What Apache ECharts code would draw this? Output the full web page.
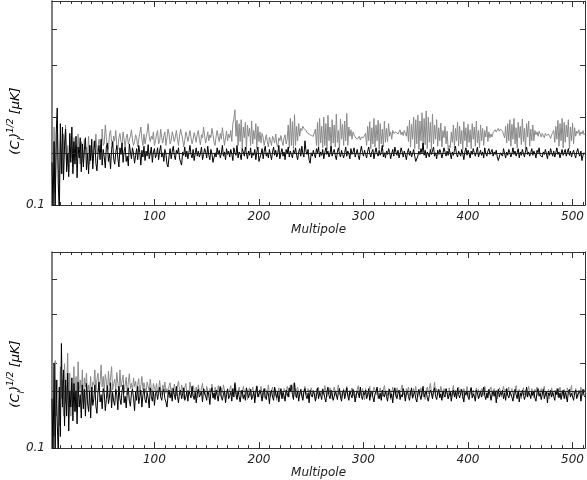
<!DOCTYPE html>
<html>
<head>
<meta charset="utf-8">
<script src="https://cdn.jsdelivr.net/npm/echarts@6/dist/echarts.min.js"></script>
<style>
  html, body { margin: 0; padding: 0; background: #fff; }
  #main { width: 587px; height: 480px; }
</style>
</head>
<body>
<div id="main"></div>
<script>
// multipoles run from l = 2 up to 512, one value per l (values in nK)
const ellStart = 2;

const topGrey = [
  210, 120, 185, 110, 150, 195, 135, 112, 165, 145,
  128, 175, 150, 188, 135, 160, 130, 172, 145, 158,
  135, 170, 142, 160, 150, 175, 148, 138, 165, 150,
  140, 168, 155, 158, 145, 172, 138, 160, 150, 142,
  165, 158, 175, 150, 158, 168, 170, 152, 182, 160,
  163, 188, 170, 158, 155, 175, 180, 165, 158, 172,
  166, 180, 160, 155, 170, 176, 165, 160, 178, 168,
  158, 170, 175, 162, 160, 172, 181, 167, 160, 165,
  174, 170, 158, 168, 176, 185, 168, 160, 175, 162,
  170, 178, 190, 172, 165, 172, 168, 178, 160, 166,
  175, 180, 162, 165, 182, 170, 163, 173, 178, 160,
  170, 182, 175, 162, 166, 178, 172, 165, 171, 180,
  168, 160, 172, 182, 175, 168, 158, 166, 178, 173,
  165, 172, 180, 170, 162, 168, 177, 171, 164, 175,
  180, 168, 161, 174, 170, 185, 172, 163, 170, 178,
  166, 174, 170, 183, 175, 164, 160, 172, 180, 171,
  165, 176, 168, 184, 172, 160, 170, 179, 166, 175,
  170, 180, 165, 190, 198, 212, 172, 195, 160, 190,
  165, 196, 156, 185, 170, 192, 155, 188, 172, 183,
  160, 194, 162, 180, 168, 190, 156, 186, 165, 178,
  163, 176, 170, 160, 167, 174, 165, 158, 171, 166,
  160, 172, 168, 163, 175, 162, 158, 170, 166, 173,
  165, 160, 170, 174, 162, 168, 188, 157, 198, 160,
  193, 155, 204, 160, 186, 166, 190, 172, 183, 180,
  186, 183, 181, 180, 177, 176, 175, 173, 173, 171,
  172, 170, 182, 160, 192, 155, 198, 163, 186, 157,
  200, 160, 190, 154, 203, 166, 185, 156, 196, 163,
  188, 158, 205, 164, 180, 155, 197, 168, 189, 160,
  194, 166, 206, 160, 185, 172, 181, 168, 178, 174,
  171, 173, 168, 170, 172, 167, 171, 169, 170, 172,
  176, 160, 186, 166, 193, 156, 184, 162, 198, 158,
  188, 166, 195, 155, 190, 162, 182, 158, 194, 164,
  183, 165, 190, 172, 178, 168, 180, 176, 174, 178,
  180, 175, 177, 181, 174, 178, 173, 180, 176, 172,
  186, 165, 195, 158, 189, 168, 200, 156, 196, 162,
  203, 155, 194, 166, 207, 158, 198, 161, 210, 156,
  200, 164, 192, 155, 205, 162, 188, 168, 196, 159,
  184, 166, 191, 158, 180, 170, 186, 162, 179, 155,
  160, 157, 178, 164, 188, 157, 183, 166, 192, 159,
  186, 162, 180, 155, 193, 166, 184, 158, 189, 164,
  181, 156, 190, 168, 185, 159, 194, 163, 180, 157,
  188, 166, 183, 160, 180, 171, 186, 165, 178, 170,
  175, 171, 177, 176, 181, 178, 180, 183, 179, 182,
  184, 179, 180, 170, 186, 163, 190, 166, 196, 159,
  189, 168, 198, 162, 184, 157, 192, 170, 186, 161,
  197, 165, 183, 156, 190, 171, 194, 159, 182, 166,
  188, 166, 180, 174, 178, 172, 179, 175, 171, 176,
  174, 170, 176, 173, 171, 175, 172, 169, 174, 177,
  180, 164, 186, 168, 195, 159, 190, 166, 198, 157,
  192, 164, 188, 171, 196, 156, 185, 166, 191, 162,
  184, 172, 179, 176, 181, 173, 178, 175, 180, 174,
  176
];

const topBlack = [
  140, 95, 165, 90, 175, 215, 118, 92, 190, 128,
  185, 122, 160, 182, 130, 150, 125, 176, 140, 185,
  128, 165, 138, 172, 124, 158, 145, 170, 130, 162,
  135, 155, 170, 132, 150, 128, 160, 142, 168, 133,
  152, 166, 139, 131, 150, 160, 143, 168, 137, 155,
  146, 134, 158, 163, 141, 150, 133, 155, 165, 144,
  138, 151, 160, 145, 135, 157, 149, 163, 140, 153,
  158, 141, 147, 136, 162, 152, 144, 157, 150, 139,
  148, 156, 143, 160, 151, 137, 154, 146, 159, 142,
  153, 147, 161, 144, 150, 158, 140, 152, 156, 145,
  149, 157, 143, 153, 160, 146, 151, 141, 155, 150,
  138, 135, 147, 156, 144, 152, 159, 148, 143, 154,
  150, 157, 145, 140, 137, 152, 148, 158, 146, 153,
  144, 151, 160, 149, 145, 155, 142, 150, 157, 147,
  153, 146, 150, 158, 143, 149, 156, 152, 145, 159,
  148, 143, 155, 150, 140, 138, 151, 146, 157, 149,
  154, 145, 150, 160, 147, 152, 143, 156, 149, 153,
  146, 155, 150, 142, 157, 151, 148, 160, 145, 152,
  149, 143, 156, 152, 147, 158, 150, 144, 153, 148,
  157, 145, 151, 148, 155, 143, 152, 158, 141, 139,
  150, 156, 144, 153, 159, 147, 151, 145, 155, 149,
  143, 152, 158, 148, 154, 146, 150, 160, 144, 151,
  156, 147, 152, 143, 155, 150, 158, 146, 153, 149,
  145, 154, 150, 157, 148, 143, 152, 156, 147, 159,
  150, 146, 166, 153, 149, 155, 142, 139, 151, 147,
  154, 149, 145, 156, 151, 158, 146, 152, 148, 155,
  144, 151, 157, 149, 153, 146, 150, 159, 147, 152,
  155, 148, 143, 152, 157, 150, 146, 154, 149, 145,
  151, 158, 147, 153, 150, 144, 156, 149, 152, 157,
  146, 150, 155, 148, 143, 152, 159, 151, 147, 154,
  149, 145, 153, 158, 150, 146, 152, 155, 144, 151,
  157, 150, 147, 154, 148, 152, 160, 146, 151, 145,
  153, 149, 156, 151, 144, 150, 155, 147, 158, 152,
  148, 154, 145, 150, 157, 152, 146, 153, 149, 143,
  151, 156, 148, 153, 146, 150, 155, 147, 141, 140,
  147, 153, 149, 156, 151, 163, 148, 154, 145, 152,
  150, 146, 155, 149, 153, 158, 147, 151, 144, 154,
  149, 155, 151, 145, 150, 157, 152, 147, 153, 148,
  156, 150, 144, 152, 148, 154, 159, 149, 146, 153,
  151, 147, 155, 150, 143, 152, 157, 148, 154, 150,
  145, 153, 149, 156, 151, 147, 152, 158, 146, 150,
  154, 148, 152, 145, 157, 150, 147, 153, 156, 149,
  151, 155, 147, 152, 149, 154, 146, 142, 144, 151,
  153, 147, 156, 150, 145, 152, 148, 155, 151, 146,
  150, 157, 149, 153, 147, 151, 156, 145, 152, 148,
  155, 150, 146, 153, 158, 149, 152, 147, 151, 156,
  148, 153, 150, 145, 154, 151, 157, 148, 150, 146,
  152, 149, 155, 150, 144, 153, 148, 156, 151, 147,
  153, 146, 151, 157, 149, 152, 145, 150, 155, 148,
  150, 155, 147, 152, 156, 148, 153, 146, 151, 154,
  149, 145, 152, 156, 150, 147, 153, 142, 148, 151,
  149
];

const bottomGrey = [
  265, 150, 110, 205, 130, 175, 145, 120, 195, 150,
  175, 130, 200, 145, 160, 218, 140, 185, 130, 170,
  150, 195, 135, 180, 145, 203, 160, 175, 155, 190,
  145, 178, 165, 185, 150, 168, 158, 180, 145, 172,
  168, 190, 158, 176, 185, 160, 172, 198, 165, 180,
  159, 183, 174, 152, 188, 167, 178, 195, 161, 170,
  176, 162, 186, 170, 158, 190, 165, 173, 182, 157,
  168, 179, 155, 172, 184, 163, 170, 160, 178, 166,
  173, 158, 169, 177, 155, 167, 180, 162, 171, 164,
  157, 172, 166, 160, 176, 163, 155, 170, 168, 159,
  170, 158, 163, 174, 160, 155, 168, 161, 172, 157,
  163, 152, 167, 171, 158, 164, 156, 169, 160, 154,
  166, 173, 159, 155, 168, 162, 150, 164, 170, 158,
  161, 156, 172, 163, 153, 167, 160, 157, 165, 151,
  168, 159, 155, 164, 170, 157, 162, 152, 166, 160,
  154, 163, 158, 169, 156, 150, 165, 161, 155, 167,
  159, 153, 164, 157, 168, 161, 151, 158, 163, 155,
  162, 167, 154, 160, 157, 172, 163, 150, 158, 165,
  156, 161, 152, 166, 159, 155, 163, 149, 160, 164,
  153, 158, 165, 157, 150, 162, 167, 156, 152, 161,
  166, 154, 159, 151, 163, 160, 155, 168, 157, 152,
  160, 165, 157, 153, 162, 148, 158, 164, 155, 161,
  157, 150, 163, 159, 154, 166, 161, 152, 168, 160,
  163, 170, 156, 152, 161, 165, 158, 154, 162, 157,
  150, 160, 166, 155, 159, 163, 152, 157, 164, 158,
  161, 154, 149, 162, 157, 165, 153, 160, 156, 163,
  155, 167, 158, 152, 161, 156, 164, 159, 150, 160,
  165, 157, 153, 162, 168, 155, 160, 151, 158, 163,
  154, 159, 166, 156, 152, 161, 157, 164, 153, 160,
  158, 151, 162, 167, 155, 160, 154, 163, 159, 149,
  163, 158, 153, 160, 166, 152, 159, 156, 165, 161,
  155, 162, 150, 158, 164, 157, 153, 161, 167, 156,
  160, 154, 163, 159, 149, 158, 165, 155, 161, 152,
  164, 157, 160, 153, 162, 168, 155, 159, 151, 163,
  158, 165, 154, 161, 156, 150, 163, 157, 166, 155,
  152, 160, 157, 164, 153, 162, 158, 149, 161, 165,
  156, 163, 170, 158, 152, 160, 172, 157, 163, 154,
  161, 155, 166, 159, 151, 163, 156, 162, 158, 150,
  164, 157, 153, 160, 167, 155, 161, 152, 159, 165,
  156, 162, 158, 150, 163, 157, 154, 166, 160, 153,
  159, 165, 155, 161, 152, 158, 164, 156, 162, 151,
  157, 163, 160, 154, 166, 158, 151, 160, 155, 162,
  165, 153, 159, 163, 156, 161, 150, 157, 164, 159,
  152, 160, 166, 157, 162, 154, 159, 165, 153, 158,
  163, 156, 151, 160, 167, 158, 154, 162, 157, 150,
  159, 164, 155, 161, 153, 160, 166, 156, 152, 163,
  157, 151, 162, 158, 165, 154, 160, 157, 163, 155,
  160, 166, 153, 159, 156, 162, 150, 158, 164, 157,
  154, 161, 157, 163, 152, 159, 165, 155, 160, 153,
  162, 156, 150, 164, 158, 155, 161, 167, 154, 159,
  156, 163, 159, 152, 161, 157, 165, 154, 158, 162,
  157
];

const bottomBlack = [
  150, 92, 200, 90, 175, 125, 93, 165, 110, 236,
  140, 190, 120, 175, 130, 185, 115, 160, 140, 178,
  125, 170, 135, 160, 122, 172, 140, 155, 128, 168,
  138, 162, 130, 170, 145, 135, 160, 128, 165, 142,
  150, 168, 141, 133, 159, 172, 146, 155, 138, 163,
  157, 136, 149, 167, 144, 152, 171, 139, 158, 147,
  142, 162, 155, 137, 166, 150, 143, 160, 168, 145,
  153, 139, 158, 164, 147, 141, 157, 162, 150, 136,
  159, 148, 166, 144, 152, 161, 140, 155, 163, 149,
  145, 158, 151, 139, 164, 153, 147, 160, 142, 156,
  160, 149, 157, 165, 152, 148, 159, 162, 150, 146,
  140, 154, 161, 151, 158, 147, 163, 155, 149, 166,
  153, 145, 158, 161, 150, 156, 164, 148, 152, 159,
  147, 160, 155, 151, 166, 154, 149, 158, 145, 157,
  162, 152, 150, 159, 146, 163, 156, 153, 148, 160,
  155, 143, 158, 164, 151, 157, 149, 161, 154, 147,
  159, 166, 152, 148, 156, 160, 145, 155, 162, 150,
  154, 158, 147, 163, 152, 170, 155, 149, 160, 153,
  146, 157, 161, 150, 155, 148, 164, 158, 151, 156,
  162, 149, 153, 159, 145, 157, 166, 152, 150, 161,
  155, 147, 158, 163, 153, 149, 160, 156, 144, 157,
  161, 152, 148, 165, 156, 151, 159, 146, 155, 163,
  150, 158, 154, 147, 161, 157, 152, 164, 159, 168,
  155, 149, 171, 158, 151, 160, 147, 156, 162, 153,
  148, 159, 163, 154, 150, 157, 145, 161, 155, 152,
  160, 156, 147, 153, 164, 150, 158, 155, 149, 162,
  157, 151, 146, 159, 165, 154, 150, 161, 156, 148,
  153, 160, 155, 149, 158, 163, 152, 147, 157, 161,
  150, 156, 164, 153, 148, 159, 155, 151, 162, 157,
  146, 154, 160, 157, 151, 165, 153, 149, 158, 155,
  161, 150, 155, 163, 148, 157, 160, 152, 146, 156,
  159, 165, 154, 150, 157, 148, 161, 155, 152, 160,
  153, 147, 158, 162, 151, 156, 145, 159, 164, 154,
  150, 157, 161, 149, 155, 152, 163, 158, 147, 156,
  160, 153, 148, 157, 164, 151, 155, 159, 150, 146,
  157, 162, 154, 149, 158, 166, 152, 156, 160, 151,
  147, 155, 161, 157, 150, 159, 164, 153, 149, 158,
  162, 151, 156, 148, 160, 155, 152, 163, 157, 150,
  154, 159, 147, 156, 161, 152, 158, 150, 164, 155,
  151, 157, 162, 153, 146, 158, 155, 160, 152, 149,
  159, 164, 151, 156, 153, 147, 161, 157, 150, 155,
  160, 152, 158, 165, 154, 149, 157, 151, 162, 156,
  148, 155, 160, 153, 159, 145, 156, 162, 152, 158,
  155, 161, 150, 157, 148, 163, 154, 151, 159, 156,
  152, 147, 158, 162, 155, 150, 160, 146, 157, 153,
  161, 156, 149, 154, 165, 152, 158, 155, 150, 159,
  154, 160, 151, 147, 158, 163, 153, 157, 149, 155,
  162, 150, 156, 159, 145, 157, 154, 161, 152, 158,
  153, 148, 160, 155, 163, 151, 157, 149, 156, 161,
  150, 158, 154, 146, 159, 162, 152, 157, 155, 148,
  157, 161, 150, 155, 153, 160, 147, 156, 162, 154,
  152
];

// horizontal reference level drawn in each panel (μK)
const refLevelTop = 0.153;
const refLevelBottom = 0.157;

const xMajorTicks = [100, 200, 300, 400, 500];
const xMinorTicks = [10, 20, 30, 40, 50, 60, 70, 80, 90,
  110, 120, 130, 140, 150, 160, 170, 180, 190,
  210, 220, 230, 240, 250, 260, 270, 280, 290,
  310, 320, 330, 340, 350, 360, 370, 380, 390,
  410, 420, 430, 440, 450, 460, 470, 480, 490, 510];
const yTicks = [0.2, 0.3, 0.4];
const yLabels = [0.1];

const toPoints = arr => arr.map((v, i) => [ellStart + i, v / 1000]);

const font = 'DejaVu Sans';
const axisColor = '#333';
const textColor = '#222';

const chart = echarts.init(document.getElementById('main'), null, { renderer: 'canvas' });

const grids = [
  { left: 52, top: 1, width: 534, height: 204 },
  { left: 52, top: 252, width: 534, height: 206 }
];

const xAxes = [];
const yAxes = [];
grids.forEach((g, gi) => {
  const base = { type: 'value', gridIndex: gi, min: 2, max: 512, splitLine: { show: false } };
  xAxes.push(Object.assign({}, base, {
    position: 'bottom',
    axisLine: { show: true, lineStyle: { color: axisColor, width: 1 } },
    axisTick: { show: true, inside: true, length: 6, customValues: xMajorTicks, lineStyle: { color: axisColor } },
    axisLabel: { show: true, customValues: xMajorTicks, margin: 6, fontFamily: font, fontStyle: 'italic', fontSize: 12, color: textColor },
    name: 'Multipole', nameLocation: 'middle', nameGap: 15,
    nameTextStyle: { fontFamily: font, fontStyle: 'italic', fontSize: 12, color: textColor }
  }));
  xAxes.push(Object.assign({}, base, {
    position: 'bottom',
    axisLine: { show: false },
    axisTick: { show: true, inside: true, length: 3, customValues: xMinorTicks, lineStyle: { color: axisColor } },
    axisLabel: { show: false }
  }));
  xAxes.push(Object.assign({}, base, {
    position: 'top',
    axisLine: { show: true, lineStyle: { color: axisColor, width: 1 } },
    axisTick: { show: true, inside: true, length: 6, customValues: xMajorTicks, lineStyle: { color: axisColor } },
    axisLabel: { show: false }
  }));
  xAxes.push(Object.assign({}, base, {
    position: 'top',
    axisLine: { show: false },
    axisTick: { show: true, inside: true, length: 3, customValues: xMinorTicks, lineStyle: { color: axisColor } },
    axisLabel: { show: false }
  }));

  const ybase = { type: 'log', logBase: 10, gridIndex: gi, min: 0.1, max: 0.5, splitLine: { show: false } };
  yAxes.push(Object.assign({}, ybase, {
    position: 'left',
    axisLine: { show: true, lineStyle: { color: '#555', width: 1.5 } },
    axisTick: { show: true, inside: true, length: 5, customValues: yTicks, lineStyle: { color: axisColor } },
    axisLabel: {
      show: true, customValues: yLabels, margin: 7, fontFamily: font, fontStyle: 'italic', fontSize: 12, color: textColor,
      formatter: v => '0.1'
    }
  }));
  yAxes.push(Object.assign({}, ybase, {
    position: 'right',
    axisLine: { show: true, lineStyle: { color: axisColor, width: 1 } },
    axisTick: { show: true, inside: true, length: 5, customValues: yTicks, lineStyle: { color: axisColor } },
    axisLabel: { show: false }
  }));
});

const lineSeries = (name, arr, gi, color, ref) => {
  const s = {
    name: name,
    type: 'line',
    xAxisIndex: gi * 4,
    yAxisIndex: gi * 2,
    data: toPoints(arr),
    showSymbol: false,
    symbol: 'none',
    clip: true,
    lineStyle: { color: color, width: 1 },
    itemStyle: { color: color },
    silent: true,
    animation: false
  };
  if (ref !== undefined) {
    s.markLine = {
      silent: true,
      symbol: 'none',
      label: { show: false },
      lineStyle: { color: '#222', width: 1, type: 'solid' },
      data: [{ yAxis: ref }]
    };
  }
  return s;
};

const yNameRich = {
  base: { fontFamily: font, fontStyle: 'italic', fontSize: 13, color: textColor, lineHeight: 20 },
  sub: { fontFamily: font, fontStyle: 'italic', fontSize: 9, color: textColor, lineHeight: 20, verticalAlign: 'bottom' },
  sup: { fontFamily: font, fontStyle: 'italic', fontSize: 9, color: textColor, lineHeight: 20, verticalAlign: 'top' }
};
const yNameText = '{base|(C}{sub|l}{base|)}{sup|1/2}{base| [μK]}';

const option = {
  animation: false,
  backgroundColor: '#fff',
  grid: grids,
  xAxis: xAxes,
  yAxis: yAxes,
  series: [
    lineSeries('top grey', topGrey, 0, '#8a8a8a'),
    lineSeries('top black', topBlack, 0, '#000', refLevelTop),
    lineSeries('bottom grey', bottomGrey, 1, '#8a8a8a'),
    lineSeries('bottom black', bottomBlack, 1, '#000', refLevelBottom)
  ],
  graphic: [
    { type: 'text', x: 16, y: 121, rotation: Math.PI / 2,
      style: { text: yNameText, rich: yNameRich, align: 'center', verticalAlign: 'middle' } },
    { type: 'text', x: 16, y: 374, rotation: Math.PI / 2,
      style: { text: yNameText, rich: yNameRich, align: 'center', verticalAlign: 'middle' } }
  ]
};

chart.setOption(option);

window.onresize = () => {
  chart.resize();
};
</script>
</body>
</html>
